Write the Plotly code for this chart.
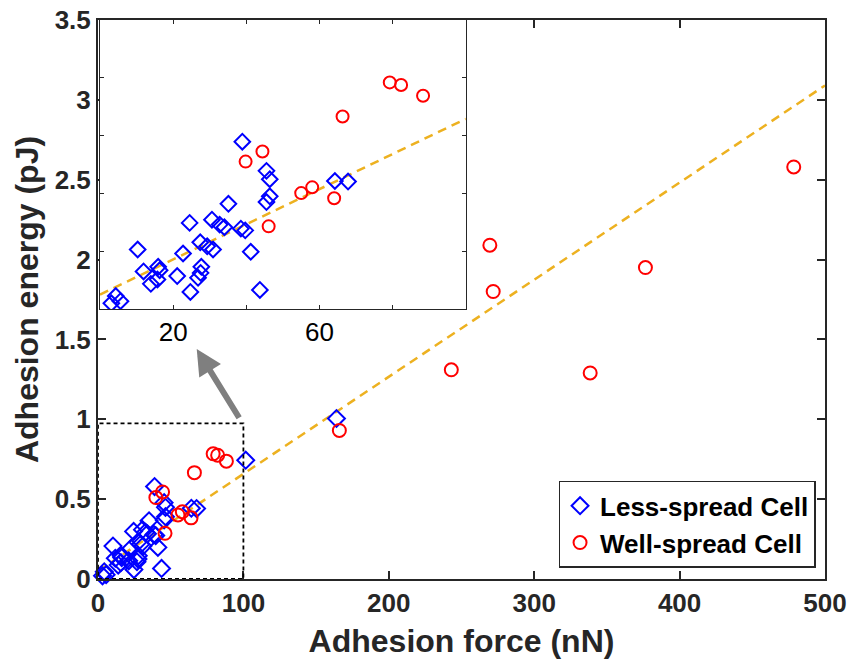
import plotly.graph_objects as go

# ---------------- data ----------------
less_x = [38.9, 45.5, 46.4, 46.4, 45.5, 35.1, 24.5, 30.6, 32.7, 34.0, 38.5, 39.7,
          27.4, 29.3, 30.9, 22.7, 10.3, 41.2, 11.9, 15.9, 16.3, 27.7, 27.5, 26.8,
          21.1, 15.7, 13.9, 24.7, 43.7, 3.1, 4.3, 5.6, 64.2, 67.8, 101.6, 164.0]
less_y = [0.579, 0.478, 0.449, 0.390, 0.370, 0.364, 0.298, 0.309, 0.292, 0.283, 0.278, 0.272,
          0.231, 0.217, 0.206, 0.192, 0.206, 0.198, 0.130, 0.146, 0.134, 0.146, 0.125, 0.108,
          0.114, 0.102, 0.087, 0.059, 0.066, 0.020, 0.045, 0.027, 0.443, 0.441, 0.744, 1.005]

well_x = [79.2, 82.3, 88.3, 66.3, 44.4, 39.8, 55.0, 58.0, 64.0, 46.1,
          478.5, 376.5, 269.5, 271.8, 243.0, 338.5, 166.0]
well_y = [0.784, 0.775, 0.738, 0.666, 0.545, 0.510, 0.401, 0.421, 0.383, 0.286,
          2.58, 1.95, 2.09, 1.80, 1.31, 1.29, 0.93]

fit_slope = 0.00608
fit_intercept = 0.05

x_range = [0, 500]
y_range = [0, 3.5]
zoom_x = [0, 100]
zoom_y = [0, 1]
inset_tickvals = [20, 40, 60, 80]
inset_ticktext = ["20", "", "60", ""]

arrow_tail = (97.7, 1.0)
arrow_head = (67.9, 1.44)

# ---------------- figure ----------------
FONT = "Liberation Sans, Arial, sans-serif"
DARK = "#262626"
BLUE = "#0000FF"
RED = "#FF0000"
GOLD = "#EDB120"


def in_zoom(xs, ys):
    pts = [(a, b) for a, b in zip(xs, ys)
           if zoom_x[0] <= a <= zoom_x[1] and zoom_y[0] <= b <= zoom_y[1]]
    return [p[0] for p in pts], [p[1] for p in pts]


less_xi, less_yi = in_zoom(less_x, less_y)
well_xi, well_yi = in_zoom(well_x, well_y)

fit_x = [x_range[0], x_range[1]]
fit_y = [fit_intercept + fit_slope * v for v in fit_x]
fit_xi = [zoom_x[0], zoom_x[1]]
fit_yi = [fit_intercept + fit_slope * v for v in fit_xi]

fig = go.Figure()

# main axes
fig.add_trace(go.Scatter(x=fit_x, y=fit_y, mode="lines", showlegend=False,
                         line=dict(color=GOLD, width=2.5, dash="9px,6px"),
                         xaxis="x", yaxis="y", hoverinfo="skip"))
fig.add_trace(go.Scatter(x=less_x, y=less_y, mode="markers", name="Less-spread Cell",
                         marker=dict(symbol="diamond-open", size=13, color=BLUE,
                                     line=dict(width=2, color=BLUE)),
                         cliponaxis=False, xaxis="x", yaxis="y"))
fig.add_trace(go.Scatter(x=well_x, y=well_y, mode="markers", name="Well-spread Cell",
                         marker=dict(symbol="circle-open", size=13, color=RED,
                                     line=dict(width=2, color=RED)),
                         cliponaxis=False, xaxis="x", yaxis="y"))

# inset axes
fig.add_trace(go.Scatter(x=fit_xi, y=fit_yi, mode="lines", showlegend=False,
                         line=dict(color=GOLD, width=2.5, dash="9px,6px"),
                         xaxis="x2", yaxis="y2", hoverinfo="skip"))
fig.add_trace(go.Scatter(x=less_xi, y=less_yi, mode="markers", showlegend=False,
                         marker=dict(symbol="diamond-open", size=12, color=BLUE,
                                     line=dict(width=2, color=BLUE)),
                         xaxis="x2", yaxis="y2"))
fig.add_trace(go.Scatter(x=well_xi, y=well_yi, mode="markers", showlegend=False,
                         marker=dict(symbol="circle-open", size=12, color=RED,
                                     line=dict(width=2, color=RED)),
                         xaxis="x2", yaxis="y2"))

# dashed zoom box
fig.add_shape(type="rect", xref="x", yref="y",
              x0=zoom_x[0], x1=zoom_x[1], y0=zoom_y[0], y1=zoom_y[1] * 0.975,
              line=dict(color="black", width=1.8, dash="4px,3px"))

# arrow
fig.add_annotation(x=arrow_head[0], y=arrow_head[1], ax=arrow_tail[0], ay=arrow_tail[1],
                   xref="x", yref="y", axref="x", ayref="y", text="",
                   showarrow=True, arrowhead=2, arrowsize=0.85, arrowwidth=6,
                   arrowcolor="#7F7F7F")

fig.update_layout(
    width=853, height=668,
    margin=dict(l=98, r=28, t=20, b=89),
    paper_bgcolor="white", plot_bgcolor="white",
    font=dict(family=FONT, color=DARK),
    showlegend=True,
    legend=dict(x=0.987, y=0.02, xanchor="right", yanchor="bottom",
                bgcolor="white", bordercolor=DARK, borderwidth=1.5,
                font=dict(family=FONT, size=26, color="black", weight="bold"),
                itemwidth=30, tracegroupgap=0),
    xaxis=dict(range=x_range, domain=[0, 1], anchor="y", automargin=False,
               tickvals=[0, 100, 200, 300, 400, 500], ticklabeloverflow="allow",
               ticks="inside", ticklen=8, tickwidth=1.5, tickcolor=DARK,
               showline=True, linewidth=2, linecolor=DARK, mirror="ticks",
               showgrid=False, zeroline=False,
               tickfont=dict(size=26, weight="bold", color=DARK),
               title=dict(text="Adhesion force (nN)", standoff=12,
                          font=dict(size=32, weight="bold", color=DARK))),
    yaxis=dict(range=y_range, domain=[0, 1], anchor="x", automargin=False,
               tickvals=[0, 0.5, 1, 1.5, 2, 2.5, 3, 3.5], ticklabeloverflow="allow",
               ticks="inside", ticklen=8, tickwidth=1.5, tickcolor=DARK,
               showline=True, linewidth=2, linecolor=DARK, mirror="ticks",
               showgrid=False, zeroline=False,
               tickfont=dict(size=26, weight="bold", color=DARK),
               title=dict(text="Adhesion energy (pJ)", standoff=6,
                          font=dict(size=32, weight="bold", color=DARK))),
    xaxis2=dict(range=zoom_x, domain=[0.00275, 0.506], anchor="y2", automargin=False,
                tickvals=inset_tickvals, ticktext=inset_ticktext,
                ticks="inside", ticklen=4, tickwidth=1, tickcolor=DARK,
                showline=True, linewidth=1.2, linecolor=DARK, mirror="ticks",
                showgrid=False, zeroline=False,
                tickfont=dict(size=26, color="black")),
    yaxis2=dict(range=zoom_y, domain=[0.483, 1.0], anchor="x2", automargin=False,
                tickvals=[0.2, 0.4, 0.6, 0.8], showticklabels=False,
                ticks="inside", ticklen=4, tickwidth=1, tickcolor=DARK,
                showline=True, linewidth=1.2, linecolor=DARK, mirror="ticks",
                showgrid=False, zeroline=False),
)

fig.write_html("out.html", config={"displayModeBar": False},
               post_script="document.body.style.margin='0';document.body.style.padding='0';")
